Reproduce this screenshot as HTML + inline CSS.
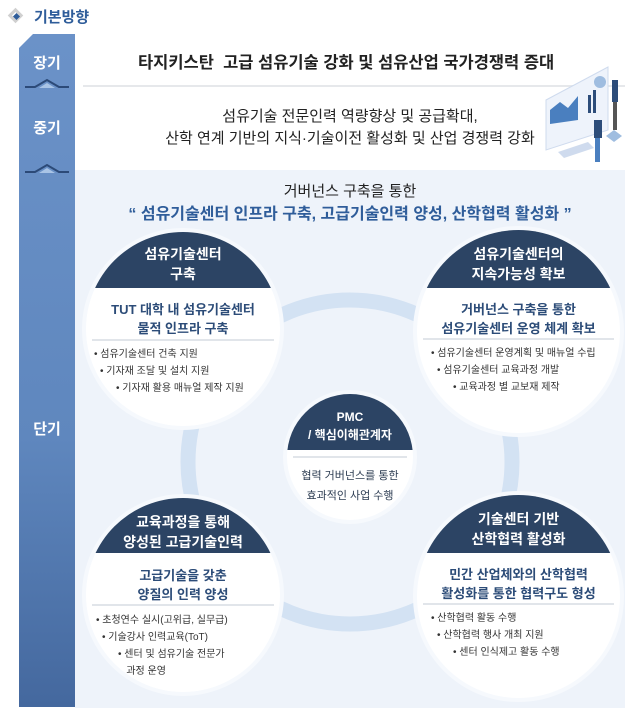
<!DOCTYPE html>
<html><head><meta charset="utf-8"><style>
*{margin:0;padding:0;box-sizing:border-box}
body{width:639px;height:716px;background:#fff;position:relative;overflow:hidden;font-family:"Liberation Sans","Noto Sans CJK KR",sans-serif;color:#222}
.a{position:absolute}
.bar{left:19px;top:34px;width:56px;height:673px;background:linear-gradient(#6b92c8,#5f87be 60%,#44689e)}
.lab{color:#fff;font-weight:bold;font-size:15px;width:56px;text-align:center;left:19px}
.circ{position:absolute;border-radius:50%;background:#fff;overflow:hidden;box-shadow:0 0 0 4px #f6f9fd}
.cap{position:absolute;left:0;right:0;top:0;background:#2c4464;color:#fff;font-weight:bold;text-align:center;font-size:14px;line-height:20px}
.sub{position:absolute;left:0;right:0;text-align:center;color:#2c4c78;font-weight:bold;font-size:13px;line-height:19px}
.hr{position:absolute;left:6px;right:6px;height:2px;background:#e1e5ea}
ul{position:absolute;list-style:none;font-size:10px;line-height:17px;color:#333;white-space:nowrap}
li:before{content:"• ";}
li.i1{padding-left:6px}
li.i2{padding-left:22px}
</style></head><body>
<div class="a" style="left:10px;top:10px;width:11px;height:11px;border:3px solid #d0d0d0;transform:rotate(45deg)"></div>
<div class="a" style="left:14px;top:14px;width:5px;height:5px;background:#2f5d9a;transform:rotate(45deg)"></div>
<div class="a" style="left:34px;top:6px;font-size:15px;font-weight:bold;color:#2f5d9a">기본방향</div>

<div class="a bar"></div>
<div class="a" style="left:19px;top:34px;width:0;height:0;border-top:14px solid #fff;border-right:14px solid transparent"></div>
<div class="a lab" style="top:52px">장기</div>
<div class="a lab" style="top:117px">중기</div>
<div class="a lab" style="top:418px">단기</div>
<svg class="a" style="left:19px;top:78px" width="56" height="100"><g fill="none" stroke="#2c4a78" stroke-width="2"><path d="M6 9H16L28 2L40 9H50"/><path d="M6 94H16L28 87L40 94H50"/></g><g fill="#a9c4e6"><path d="M20 10L28 5L36 10Z"/><path d="M20 95L28 90L36 95Z"/></g></svg>

<div class="a" style="left:138px;top:49px;font-size:16.5px;font-weight:bold;color:#222;white-space:nowrap">타지키스탄&nbsp; 고급 섬유기술 강화 및 섬유산업 국가경쟁력 증대</div>
<div class="a" style="left:83px;top:85px;width:542px;height:2px;background:#e6e8eb"></div>
<div class="a" style="left:150px;top:106px;width:400px;text-align:center;font-size:15px;line-height:22px;color:#222">섬유기술 전문인력 역량향상 및 공급확대,<br>산학 연계 기반의 지식·기술이전 활성화 및 산업 경쟁력 강화</div>
<svg class="a" style="left:538px;top:55px" width="90" height="110"><path d="M8 45L70 12V75L8 95Z" fill="#eef3fb" stroke="#cfdbee"/><path d="M12 55L22 47L30 53L40 41V65L12 69Z" fill="#4a7fbf"/><rect x="50" y="40" width="3" height="18" fill="#2d4d7a"/><rect x="55" y="35" width="3" height="23" fill="#2d4d7a"/><circle cx="62" cy="27" r="6" fill="#9fbde0"/><path d="M20 97L50 87L56 93L26 103Z" fill="#cfdbee"/><rect x="74" y="25" width="6" height="22" fill="#2d4d7a"/><rect x="75" y="47" width="4" height="28" fill="#555"/><rect x="56" y="65" width="8" height="18" fill="#2d4d7a"/><rect x="57" y="83" width="5" height="24" fill="#4a7fbf"/><path d="M76 75L84 81L76 87L68 81Z" fill="#9fbde0"/></svg>

<div class="a" style="left:75px;top:170px;width:550px;height:538px;background:#eef3fa"></div>
<div class="a" style="left:75px;top:180px;width:550px;text-align:center;font-size:15px;color:#222">거버넌스 구축을 통한</div>
<div class="a" style="left:75px;top:200px;width:550px;text-align:center;font-size:16px;font-weight:bold;color:#2f5d9a">“ 섬유기술센터 인프라 구축, 고급기술인력 양성, 산학협력 활성화 ”</div>

<svg class="a" style="left:0;top:0" width="639" height="716"><circle cx="350" cy="462" r="162" fill="none" stroke="#d3e2f3" stroke-width="15"/></svg>

<div class="circ" style="left:86px;top:232px;width:194px;height:194px">
 <div class="cap" style="height:56px;padding-top:12px">섬유기술센터<br>구축</div>
 <div class="sub" style="top:68px">TUT 대학 내 섬유기술센터<br>물적 인프라 구축</div>
 <div class="hr" style="top:107px"></div>
 <ul style="left:8px;top:114px"><li>섬유기술센터 건축 지원</li><li class="i1">기자재 조달 및 설치 지원</li><li class="i2">기자재 활용 매뉴얼 제작 지원</li></ul>
</div>
<div class="circ" style="left:417px;top:230px;width:203px;height:203px">
 <div class="cap" style="height:58px;padding-top:14px">섬유기술센터의<br>지속가능성 확보</div>
 <div class="sub" style="top:70px">거버넌스 구축을 통한<br>섬유기술센터 운영 체계 확보</div>
 <div class="hr" style="top:108px"></div>
 <ul style="left:14px;top:115px"><li>섬유기술센터 운영계획 및 매뉴얼 수립</li><li class="i1">섬유기술센터 교육과정 개발</li><li class="i2">교육과정 별 교보재 제작</li></ul>
</div>
<div class="circ" style="left:86px;top:498px;width:194px;height:194px">
 <div class="cap" style="height:55px;padding-top:14px">교육과정을 통해<br>양성된 고급기술인력</div>
 <div class="sub" style="top:68px">고급기술을 갖춘<br>양질의 인력 양성</div>
 <div class="hr" style="top:106px"></div>
 <ul style="left:10px;top:114px"><li>초청연수 실시(고위급, 실무급)</li><li class="i1">기술강사 인력교육(ToT)</li><li class="i2">센터 및 섬유기술 전문가<br>&nbsp;&nbsp;&nbsp;과정 운영</li></ul>
</div>
<div class="circ" style="left:417px;top:495px;width:203px;height:203px">
 <div class="cap" style="height:58px;padding-top:14px">기술센터 기반<br>산학협력 활성화</div>
 <div class="sub" style="top:70px">민간 산업체와의 산학협력<br>활성화를 통한 협력구도 형성</div>
 <div class="hr" style="top:108px"></div>
 <ul style="left:14px;top:115px"><li>산학협력 활동 수행</li><li class="i1">산학협력 행사 개최 지원</li><li class="i2">센터 인식제고 활동 수행</li></ul>
</div>
<div class="circ" style="left:287px;top:394px;width:126px;height:126px">
 <div class="cap" style="height:56px;padding-top:14px;font-size:12px;line-height:18px">PMC<br>/ 핵심이해관계자</div>
 <div class="hr" style="top:62px"></div>
 <div class="sub" style="top:72px;font-size:11px;line-height:20px;color:#2c3c52;font-weight:normal">협력 거버넌스를 통한<br>효과적인 사업 수행</div>
</div>
</body></html>
